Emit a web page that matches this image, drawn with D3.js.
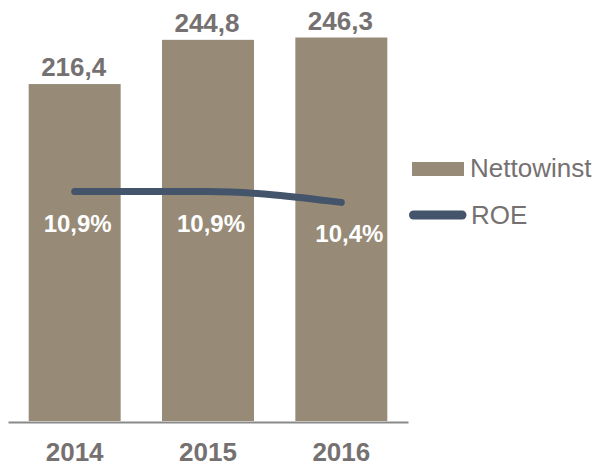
<!DOCTYPE html>
<html>
<head>
<meta charset="utf-8">
<script src="https://cdn.jsdelivr.net/npm/d3@7/dist/d3.min.js"></script>
<style>
	body { margin: 0; background: #fff; }
	svg { display: block; font-family: "Liberation Sans", Arial, sans-serif; }
</style>
</head>
<body>
<svg id="svg" width="598" height="466"></svg>
<script>

// chart data
var years = ["2014", "2015", "2016"];
var nettowinst = [216.4, 244.8, 246.3];
var roe = [10.9, 10.9, 10.4];
var nettoLabels = ["216,4", "244,8", "246,3"];
var roeLabels = ["10,9%", "10,9%", "10,4%"];
var legendNames = ["Nettowinst", "ROE"];

// colors
var barColor = "#978b78";
var lineColor = "#44546a";
var textColor = "#767171";
var axisColor = "#898989";

var svg = d3.select("#svg");

// scales
var x = d3.scaleBand()
	.domain( years )
	.range( [8, 408] )
	.paddingInner( 0.31 )
	.paddingOuter( 0.155 );

var y = d3.scaleLinear()
	.domain( [0, 270] )
	.range( [421, 0.6] );

var y2 = d3.scaleLinear()
	.domain( [0, 20] )
	.range( [427, -5] );

var cx = function(i){ return x( years[i] ) + x.bandwidth() / 2; };

// bars
svg.append("g").selectAll("rect")
	.data( nettowinst )
	.enter().append("rect")
		.attr("x", function(d, i) { return x( years[i] ); })
		.attr("y", function(d) { return y( d ); })
		.attr("width", x.bandwidth() )
		.attr("height", function(d) { return y( 0 ) - y( d ); })
		.attr("fill", barColor );

// bar value labels
svg.append("g").selectAll("text")
	.data( nettowinst )
	.enter().append("text")
		.attr("x", function(d, i) { return cx(i) - 1; })
		.attr("y", function(d) { return y( d ) - 8; })
		.attr("text-anchor", "middle")
		.attr("font-size", 26)
		.attr("font-weight", "bold")
		.attr("fill", textColor )
		.text(function(d, i){ return nettoLabels[i]; });

// x axis
var axis = svg.append("g")
	.attr("transform", "translate(0,422)")
	.call( d3.axisBottom( x ).tickSize( 0 ).tickSizeOuter( 0 ).tickPadding( 21 ) );

axis.select(".domain")
	.attr("stroke", axisColor )
	.attr("stroke-width", 2);

axis.selectAll("text")
	.attr("font-family", "Liberation Sans, Arial, sans-serif")
	.attr("font-size", 26)
	.attr("font-weight", "bold")
	.attr("fill", textColor );

// ROE line
var line = d3.line()
	.x(function(d, i) { return cx(i); })
	.y(function(d) { return y2( d ); })
	.curve( d3.curveMonotoneX );

svg.append("path")
	.datum( roe )
	.attr("d", line )
	.attr("fill", "none")
	.attr("stroke", lineColor )
	.attr("stroke-width", 7)
	.attr("stroke-linecap", "round");

// ROE labels
svg.append("g").selectAll("text")
	.data( roe )
	.enter().append("text")
		.attr("x", function(d, i) { return cx(i) + ( i === 2 ? 8 : 3 ); })
		.attr("y", function(d) { return y2( d ) + 40; })
		.attr("text-anchor", "middle")
		.attr("font-size", 24)
		.attr("font-weight", "bold")
		.attr("fill", "#ffffff")
		.text(function(d, i){ return roeLabels[i]; });

// legend
var legend = svg.append("g");

legend.append("rect")
	.attr("x", 412)
	.attr("y", 162)
	.attr("width", 52)
	.attr("height", 14)
	.attr("fill", barColor );

legend.append("text")
	.attr("x", 470)
	.attr("y", 177)
	.attr("font-size", 26)
	.attr("fill", textColor )
	.text( legendNames[0] );

legend.append("line")
	.attr("x1", 413.5)
	.attr("x2", 462)
	.attr("y1", 215)
	.attr("y2", 215)
	.attr("stroke", lineColor )
	.attr("stroke-width", 9)
	.attr("stroke-linecap", "round");

legend.append("text")
	.attr("x", 471)
	.attr("y", 223.5)
	.attr("font-size", 26)
	.attr("fill", textColor )
	.text( legendNames[1] );

</script>
</body>
</html>
